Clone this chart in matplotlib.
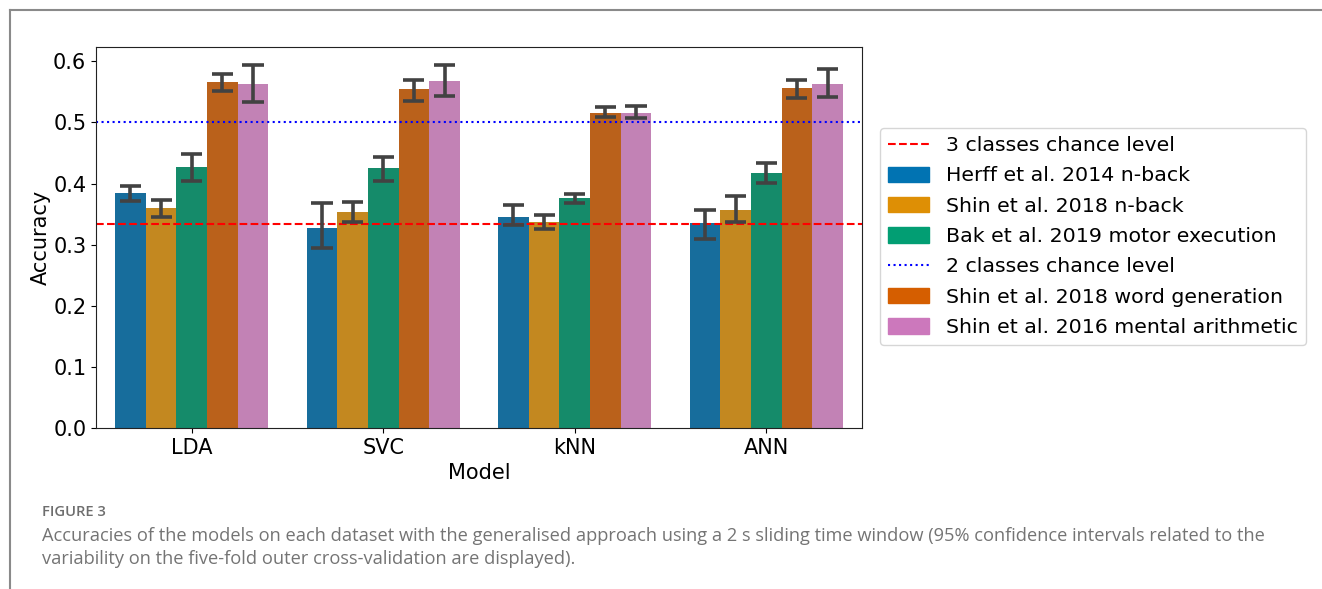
import colorsys
import numpy as np
import matplotlib
matplotlib.use("Agg")
import matplotlib.pyplot as plt
from matplotlib.patches import Patch
from matplotlib.lines import Line2D
from matplotlib.colors import to_rgb

models = ["LDA", "SVC", "kNN", "ANN"]
datasets = [
    "Herff et al. 2014 n-back",
    "Shin et al. 2018 n-back",
    "Bak et al. 2019 motor execution",
    "Shin et al. 2018 word generation",
    "Shin et al. 2016 mental arithmetic",
]

# mean accuracy per dataset (rows) and model (columns)
herff_nback = [0.385, 0.328, 0.346, 0.335]
shin_nback = [0.360, 0.353, 0.337, 0.356]
bak_motor = [0.427, 0.425, 0.376, 0.417]
shin_wordgen = [0.566, 0.554, 0.516, 0.557]
shin_mental = [0.563, 0.568, 0.516, 0.563]

# 95% confidence interval bounds
herff_lo = [0.372, 0.294, 0.332, 0.310]
herff_hi = [0.396, 0.368, 0.365, 0.357]
shin_nback_lo = [0.346, 0.337, 0.326, 0.337]
shin_nback_hi = [0.373, 0.370, 0.349, 0.379]
bak_lo = [0.405, 0.405, 0.368, 0.401]
bak_hi = [0.448, 0.444, 0.383, 0.434]
wordgen_lo = [0.552, 0.535, 0.509, 0.540]
wordgen_hi = [0.580, 0.569, 0.525, 0.570]
mental_lo = [0.533, 0.543, 0.508, 0.542]
mental_hi = [0.594, 0.594, 0.527, 0.587]

chance_3 = 1 / 3
chance_2 = 0.5

means = [herff_nback, shin_nback, bak_motor, shin_wordgen, shin_mental]
lows = [herff_lo, shin_nback_lo, bak_lo, wordgen_lo, mental_lo]
highs = [herff_hi, shin_nback_hi, bak_hi, wordgen_hi, mental_hi]

palette = ["#0173B2", "#DE8F05", "#029E73", "#D55E00", "#CC78BC"]

caption_title = "FIGURE 3"
caption_lines = [
    "Accuracies of the models on each dataset with the generalised approach "
    "using a 2 s sliding time window (95% confidence intervals related to the",
    "variability on the five-fold outer cross-validation are displayed).",
]


def desaturate(color, prop):
    h, l, s = colorsys.rgb_to_hls(*to_rgb(color))
    return colorsys.hls_to_rgb(h, l, s * prop)


W, H = 1322, 589
fig = plt.figure(figsize=(W / 100, H / 100), dpi=100)
ax = fig.add_axes([96 / W, 1 - 428 / H, (862 - 96) / W, (428 - 47) / H])

n = len(datasets)
group_w = 0.8
bar_w = group_w / n
x = np.arange(len(models))
for i in range(n):
    xs = x - group_w / 2 + bar_w * (i + 0.5)
    ax.bar(xs, means[i], width=bar_w, color=desaturate(palette[i], 0.75),
           zorder=1)
    for xi, lo, hi in zip(xs, lows[i], highs[i]):
        ax.plot([xi, xi], [lo, hi], color="#424242", lw=2.6, zorder=3,
                solid_capstyle="butt")
        for yv in (lo, hi):
            ax.plot([xi - 0.055, xi + 0.055], [yv, yv], color="#424242",
                    lw=2.6, zorder=3, solid_capstyle="butt")

ax.axhline(chance_3, color="red", ls="--", lw=1.5, zorder=2)
ax.axhline(chance_2, color="blue", ls=":", lw=1.5, zorder=2)

ax.set_xlim(-0.5, len(models) - 0.5)
ax.set_ylim(0, 0.6235)
ax.set_xticks(x)
ax.set_xticklabels(models)
ax.set_yticks([0.0, 0.1, 0.2, 0.3, 0.4, 0.5, 0.6])
ax.tick_params(labelsize=15)
ax.set_xlabel("Model", fontsize=15)
ax.set_ylabel("Accuracy", fontsize=15, labelpad=1.5)
for sp in ax.spines.values():
    sp.set_color("#222222")

handles = [
    Line2D([], [], color="red", ls="--", lw=1.5),
    Patch(color=palette[0]),
    Patch(color=palette[1]),
    Patch(color=palette[2]),
    Line2D([], [], color="blue", ls=":", lw=1.5),
    Patch(color=palette[3]),
    Patch(color=palette[4]),
]
labels = ["3 classes chance level", datasets[0], datasets[1], datasets[2],
          "2 classes chance level", datasets[3], datasets[4]]
fig.legend(handles, labels, loc="upper left",
           bbox_to_anchor=(880 / W, 1 - 128 / H), borderaxespad=0,
           fontsize=14.75, labelspacing=0.55, handleheight=0.8)

# outer frame of the figure panel
frame_kw = dict(color="#8a8a8a", lw=1.5, transform=fig.transFigure)
fig.add_artist(Line2D([10 / W, 10 / W], [0, 1 - 10 / H], **frame_kw))
fig.add_artist(Line2D([10 / W, 1], [1 - 10 / H, 1 - 10 / H], **frame_kw))

# caption, sized so each line spans its column width
cap_font = ["Open Sans", "DejaVu Sans"]
renderer = fig.canvas.get_renderer()


def fitted_text(xpx, ypx, s, width_px, **kw):
    t = fig.text(xpx / W, 1 - ypx / H, s, fontsize=10, va="center",
                 ha="left", family=cap_font, **kw)
    w = t.get_window_extent(renderer).width
    t.set_fontsize(10 * width_px / w)
    return t


fitted_text(42, 512, caption_title, 64, color="#6e6e6e", weight="semibold")
body = fitted_text(42, 536, caption_lines[0], 1225, color="#747474")
fig.text(42 / W, 1 - 559 / H, caption_lines[1], va="center", ha="left",
         family=cap_font, color="#747474", fontsize=body.get_fontsize())

fig.savefig("out.png", dpi=100)
